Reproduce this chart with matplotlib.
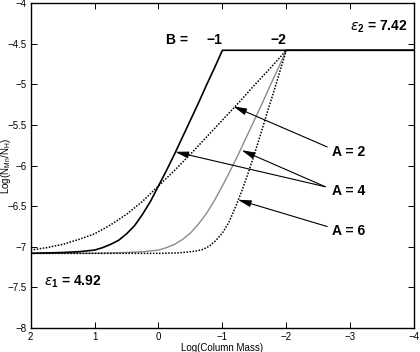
import matplotlib
matplotlib.use('Agg')
import matplotlib.pyplot as plt

plt.rcParams['font.family'] = ['Liberation Sans', 'DejaVu Sans']
plt.rcParams['mathtext.fontset'] = 'custom'
plt.rcParams['mathtext.rm'] = 'Liberation Sans'
plt.rcParams['mathtext.bf'] = 'Liberation Sans:bold'

# A = 2, B = -2 (dotted)
x_a2 = [2, 1.75, 1.5, 1.25, 1, 0.75, 0.5, 0.25, 0, -0.25, -0.5, -0.75, -1,
        -1.25, -1.5, -1.75, -2, -4]
y_a2 = [-7.04, -7.01, -6.97, -6.91, -6.84, -6.73, -6.60, -6.44, -6.25, -6.06,
        -5.86, -5.65, -5.44, -5.23, -5.01, -4.80, -4.58, -4.58]

# A = 4, B = -1 (solid black)
x_a4b1 = [2, 1.5, 1.25, 1, 0.875, 0.75, 0.625, 0.5, 0.375, 0.25, 0.125, 0,
          -0.125, -0.25, -0.375, -0.5, -0.625, -0.75, -0.875, -1, -4]
y_a4b1 = [-7.08, -7.07, -7.06, -7.04, -7.01, -6.97, -6.92, -6.84, -6.74, -6.60,
          -6.44, -6.25, -6.06, -5.86, -5.65, -5.44, -5.23, -5.01, -4.80, -4.58, -4.58]

# A = 4, B = -2 (grey)
x_a4b2 = [2, 1, 0.5, 0.25, 0, -0.125, -0.25, -0.375, -0.5, -0.625, -0.75,
          -0.875, -1, -1.125, -1.25, -1.375, -1.5, -1.625, -1.75, -1.875, -2, -4]
y_a4b2 = [-7.08, -7.08, -7.07, -7.06, -7.04, -7.01, -6.97, -6.91, -6.83, -6.72,
          -6.59, -6.43, -6.25, -6.06, -5.86, -5.65, -5.44, -5.23, -5.01, -4.80,
          -4.58, -4.58]

# A = 6, B = -2 (dotted)
x_a6 = [2, 0, -0.3, -0.5, -0.6, -0.7, -0.8, -0.9, -1.0, -1.1, -1.2, -1.3,
        -1.4, -1.5, -1.6, -1.7, -1.8, -1.9, -2, -4]
y_a6 = [-7.08, -7.08, -7.075, -7.06, -7.05, -7.03, -6.99, -6.92, -6.83, -6.70,
        -6.52, -6.32, -6.10, -5.86, -5.61, -5.35, -5.10, -4.84, -4.58, -4.58]

xticks = [2, 1, 0, -1, -2, -3, -4]
xtick_labels = ['2', '1', '0', '\u22121', '\u22122', '\u22123', '\u22124']
yticks = [-8, -7.5, -7, -6.5, -6, -5.5, -5, -4.5, -4]
ytick_labels = ['\u22128', '\u22127.5', '\u22127', '\u22126.5', '\u22126',
                '\u22125.5', '\u22125', '\u22124.5', '\u22124']

fig = plt.figure(figsize=(4.2, 3.52), dpi=100)
ax = fig.add_axes([0.073, 0.068, 0.913, 0.923])

dot = (0, (1, 1))
ax.plot(x_a4b2, y_a4b2, color='0.55', lw=1.0)
ax.plot(x_a6, y_a6, color='black', lw=1.1, linestyle=dot)
ax.plot(x_a2, y_a2, color='black', lw=1.1, linestyle=dot)
ax.plot(x_a4b1, y_a4b1, color='black', lw=1.2)

ax.set_xlim(2, -4)
ax.set_ylim(-8, -4)
ax.set_xticks(xticks)
ax.set_xticklabels(xtick_labels)
ax.set_yticks(yticks)
ax.set_yticklabels(ytick_labels)
ax.tick_params(direction='in', top=True, right=True, labelsize=7, length=4, width=0.7, pad=3)
for s in ax.spines.values():
    s.set_linewidth(1.0)

ax.set_xlabel('Log(Column Mass)', fontsize=7)
ax.xaxis.set_label_coords(0.5, -0.046)
ax.set_ylabel('Log(N$_{\\mathrm{Mn}}$/N$_{\\mathrm{H}}$)', fontsize=7)
ax.yaxis.set_label_coords(-0.047, 0.5)

ap = dict(arrowstyle='-|>,head_length=0.8,head_width=0.2', color='black', lw=0.8,
          shrinkA=0, shrinkB=0)
ax.annotate('', xy=(-1.17, -5.27), xytext=(-2.64, -5.77), arrowprops=ap)
ax.annotate('', xy=(-0.26, -5.83), xytext=(-2.61, -6.26), arrowprops=ap)
ax.annotate('', xy=(-1.30, -5.81), xytext=(-2.61, -6.26), arrowprops=ap)
ax.annotate('', xy=(-1.24, -6.42), xytext=(-2.64, -6.75), arrowprops=ap)

tk = dict(fontsize=10, fontweight='bold', va='center', ha='left')
ax.text(-2.72, -5.83, 'A = 2', **tk)
ax.text(-2.72, -6.31, 'A = 4', **tk)
ax.text(-2.72, -6.81, 'A = 6', **tk)
ax.text(-0.11, -4.45, 'B =', **tk)
ax.text(-0.87, -4.45, '\u22121', fontsize=10, fontweight='bold', va='center', ha='center')
ax.text(-1.88, -4.45, '\u22122', fontsize=10, fontweight='bold', va='center', ha='center')
ax.text(-3.0, -4.29, r'$\varepsilon_{\mathbf{2}}$ = 7.42', **tk)
ax.text(1.79, -7.43, r'$\varepsilon_{\mathbf{1}}$ = 4.92', **tk)

fig.savefig('out.png', dpi=100)
